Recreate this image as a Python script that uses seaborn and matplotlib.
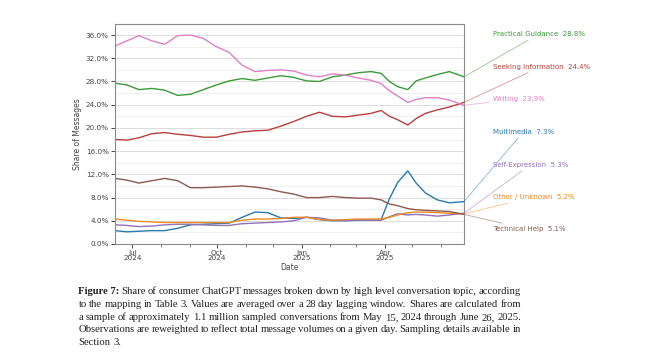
import matplotlib
matplotlib.use("Agg")
import matplotlib.pyplot as plt
import matplotlib.dates as mdates
from matplotlib.ticker import MultipleLocator, FuncFormatter
import pandas as pd
import seaborn as sns

dates = ["2024-06-12", "2024-06-25", "2024-07-08", "2024-07-22", "2024-08-05", "2024-08-19",
         "2024-09-02", "2024-09-16", "2024-09-30", "2024-10-14", "2024-10-28", "2024-11-11",
         "2024-11-25", "2024-12-09", "2024-12-23", "2025-01-06", "2025-01-20", "2025-02-03",
         "2025-02-17", "2025-03-03", "2025-03-17", "2025-03-28", "2025-04-06", "2025-04-15",
         "2025-04-26", "2025-05-05", "2025-05-15", "2025-05-28", "2025-06-10", "2025-06-26"]

practical_guidance = [27.7, 27.4, 26.6, 26.8, 26.5, 25.6, 25.8, 26.6, 27.4, 28.1, 28.5, 28.2,
                      28.6, 29.0, 28.7, 28.1, 28.0, 28.8, 29.1, 29.5, 29.7, 29.4, 28.0, 27.1,
                      26.6, 28.1, 28.6, 29.2, 29.7, 28.8]
seeking_information = [18.0, 17.9, 18.3, 19.0, 19.2, 18.9, 18.7, 18.4, 18.4, 18.9, 19.3, 19.5,
                       19.6, 20.3, 21.1, 22.0, 22.7, 22.0, 21.9, 22.2, 22.5, 23.0, 22.0, 21.4,
                       20.5, 21.6, 22.5, 23.1, 23.6, 24.4]
writing = [34.1, 35.0, 35.9, 35.0, 34.4, 35.9, 36.0, 35.4, 34.0, 33.0, 30.8, 29.7,
           29.9, 30.0, 29.8, 29.1, 28.8, 29.3, 29.1, 28.6, 28.2, 27.6, 26.4, 25.5,
           24.4, 24.9, 25.2, 25.2, 24.8, 23.9]
multimedia = [2.3, 2.1, 2.2, 2.3, 2.3, 2.7, 3.3, 3.4, 3.5, 3.6, 4.6, 5.5,
              5.4, 4.5, 4.4, 4.6, 4.2, 4.0, 4.0, 4.1, 4.1, 4.2, 7.8, 10.6,
              12.6, 10.5, 8.8, 7.6, 7.1, 7.3]
self_expression = [3.3, 3.2, 3.0, 3.1, 3.3, 3.4, 3.4, 3.3, 3.2, 3.2, 3.5, 3.6,
                   3.7, 3.8, 4.0, 4.6, 4.5, 4.1, 4.1, 4.1, 4.1, 4.1, 4.7, 5.2,
                   5.0, 5.1, 5.0, 4.8, 5.0, 5.3]
other_unknown = [4.3, 4.1, 3.9, 3.8, 3.7, 3.7, 3.7, 3.7, 3.7, 3.7, 4.1, 4.3,
                 4.3, 4.4, 4.6, 4.6, 4.2, 4.1, 4.2, 4.3, 4.3, 4.3, 4.6, 5.0,
                 5.4, 5.5, 5.5, 5.4, 5.3, 5.2]
technical_help = [11.3, 11.0, 10.5, 10.9, 11.3, 10.9, 9.7, 9.7, 9.8, 9.9, 10.0, 9.8,
                  9.5, 9.0, 8.6, 8.0, 8.0, 8.2, 8.0, 7.9, 7.9, 7.6, 6.9, 6.6,
                  6.1, 5.9, 5.8, 5.7, 5.6, 5.1]

topics = ["Practical Guidance", "Seeking Information", "Writing", "Multimedia",
          "Self-Expression", "Other / Unknown", "Technical Help"]
series = [practical_guidance, seeking_information, writing, multimedia,
          self_expression, other_unknown, technical_help]
colors = ["#3a9a3a", "#b8403a", "#df80c6", "#2a78b0", "#9370b8", "#f08a24", "#8c5a50"]
# label positions in figure pixels (y from top)
label_y_px = [34, 66.5, 99, 131.5, 164.5, 197, 229.5]

rows = []
for t, vals in zip(topics, series):
    for d, v in zip(dates, vals):
        rows.append({"Date": pd.Timestamp(d), "Share": v, "Topic": t})
df = pd.DataFrame(rows)

sns.set_style("white")
plt.rcParams["font.family"] = ["DejaVu Sans"]

W, H = 660, 362
fig = plt.figure(figsize=(6.6, 3.62), dpi=100)
ax = fig.add_axes([115 / W, 1 - 244 / H, (464 - 115) / W, (244 - 24) / H])

sns.lineplot(data=df, x="Date", y="Share", hue="Topic", hue_order=topics,
             palette=dict(zip(topics, colors)), linewidth=1.0, legend=False, ax=ax)

ax.set_xlim(pd.Timestamp(dates[0]), pd.Timestamp(dates[-1]))
ax.set_ylim(0, 37.9)
ax.yaxis.set_major_locator(MultipleLocator(4))
ax.yaxis.set_minor_locator(MultipleLocator(2))
ax.yaxis.set_major_formatter(FuncFormatter(lambda v, p: f"{v:.1f}%"))
ax.xaxis.set_major_locator(mdates.MonthLocator(bymonth=[1, 4, 7, 10]))
ax.xaxis.set_minor_locator(mdates.MonthLocator())
ax.xaxis.set_major_formatter(mdates.DateFormatter("%b\n%Y"))
ax.grid(True, which="major", axis="y", color="#dcdcdc", linewidth=0.7)
ax.grid(True, which="minor", axis="y", color="#eeeeee", linewidth=0.6)
ax.set_axisbelow(True)
for s in ax.spines.values():
    s.set_color("#8a8a8a")
    s.set_linewidth(0.8)
ax.tick_params(axis="both", which="major", labelsize=5.2, colors="#444444", length=3, width=0.7,
               pad=1.5, bottom=True, left=True)
ax.tick_params(axis="x", which="minor", length=2, width=0.6, colors="#666666", bottom=True)
ax.tick_params(axis="y", which="minor", length=0, left=False)
for lbl in ax.get_xticklabels():
    lbl.set_linespacing(0.8)
ax.set_xlabel("Date", fontsize=5.5, color="#444444", labelpad=1)
ax.set_ylabel("Share of Messages", fontsize=5.5, color="#444444", labelpad=3)

# right-hand labels with connectors
for t, vals, c, ly in zip(topics, series, colors, label_y_px):
    ax.annotate(f"{t}  {vals[-1]:.1f}%", xy=(pd.Timestamp(dates[-1]), vals[-1]), xycoords="data",
                xytext=(493 / W, 1 - ly / H), textcoords="figure fraction",
                fontsize=5.0, color=c, va="center", ha="left", annotation_clip=False,
                arrowprops=dict(arrowstyle="-", color=c, alpha=0.55, lw=0.6,
                                shrinkA=0, shrinkB=0))

# caption
caption_lines = [
    "Share of consumer ChatGPT messages broken down by high level conversation topic, according",
    "to the mapping in Table 3.  Values are averaged over a 28 day lagging window.  Shares are calculated from",
    "a sample of approximately 1.1 million sampled conversations from May 15, 2024 through June 26, 2025.",
    "Observations are reweighted to reflect total message volumes on a given day.  Sampling details available in",
    "Section 3.",
]
cap_y = [291.7, 304.5, 317.3, 330, 342.7]
serif = ["Liberation Serif", "DejaVu Serif"]
fig.canvas.draw()
renderer = fig.canvas.get_renderer()
left_px, right_px = 78.5, 521
for i, (line, y) in enumerate(zip(caption_lines, cap_y)):
    yf = 1 - y / H
    x0 = left_px
    words = line.split()
    items = []
    if i == 0:
        items.append(("Figure 7:", "bold"))
    items += [(w, "normal") for w in words]
    texts = []
    for w, wt in items:
        tt = fig.text(0, yf, w, fontsize=7.7, family=serif, weight=wt, color="#222222",
                      va="center", ha="left")
        texts.append(tt)
    widths = [tt.get_window_extent(renderer).width for tt in texts]
    total = sum(widths)
    if i < len(caption_lines) - 1 and len(texts) > 1:
        gap = (right_px - left_px - total) / (len(texts) - 1)
    else:
        gap = 2.6
    x = x0
    for tt, w in zip(texts, widths):
        tt.set_x(x / W)
        x += w + gap

fig.savefig("out.png", dpi=100)
